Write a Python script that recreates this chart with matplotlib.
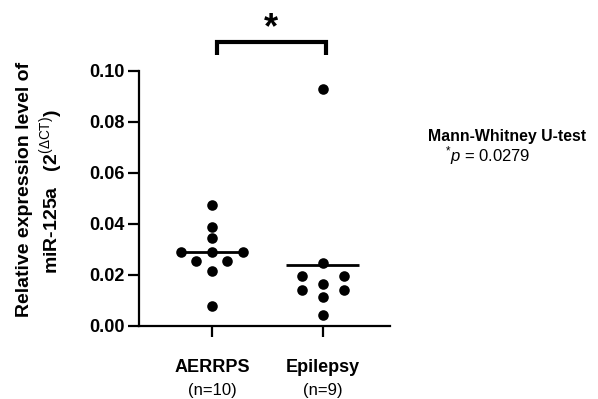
import matplotlib
matplotlib.use("Agg")
import matplotlib.pyplot as plt
import numpy as np

plt.rcParams['font.family'] = ['Liberation Sans', 'DejaVu Sans']
plt.rcParams['mathtext.fontset'] = 'custom'
plt.rcParams['mathtext.rm'] = 'Liberation Sans'
plt.rcParams['mathtext.it'] = 'Liberation Sans:italic'
plt.rcParams['mathtext.bf'] = 'Liberation Sans:bold'

groups = ["AERRPS", "Epilepsy"]
group_n = ["(n=10)", "(n=9)"]
aerrps_values = [0.0473, 0.0386, 0.0344, 0.0290, 0.0290, 0.0290, 0.0255, 0.0255, 0.0213, 0.0078]
aerrps_offsets = [0.0, 0.0, 0.0, -0.28, 0.0, 0.28, -0.14, 0.14, 0.0, 0.0]
epilepsy_values = [0.0928, 0.0245, 0.0195, 0.0195, 0.0162, 0.0140, 0.0140, 0.0111, 0.0042]
epilepsy_offsets = [0.0, 0.0, -0.19, 0.19, 0.0, -0.19, 0.19, 0.0, 0.0]
yticks = [0.00, 0.02, 0.04, 0.06, 0.08, 0.10]

fig = plt.figure(figsize=(5.98, 3.99), dpi=100)
ax = fig.add_axes([139/598, 1-325.7/399, (390-139)/598, (325.7-70.7)/399])

series = [(aerrps_values, aerrps_offsets), (epilepsy_values, epilepsy_offsets)]
half_widths = [0.29, 0.33]
for i, (vals, offs) in enumerate(series):
    xs = i + np.array(offs)
    ax.scatter(xs, vals, s=58, color='black', zorder=3, linewidths=0)
    m = np.mean(vals)
    ax.plot([i - half_widths[i], i + half_widths[i]], [m, m], color='black', lw=2, zorder=2,
            solid_capstyle='butt')

ax.set_xlim(-0.66, 1.61)
ax.set_ylim(0, 0.1)
ax.set_yticks(yticks)
ax.set_yticklabels([f"{v:.2f}" for v in yticks], fontsize=13, fontweight='bold')
ax.set_xticks([0, 1])
ax.set_xticklabels(["", ""])
for s in ['top', 'right']:
    ax.spines[s].set_visible(False)
for s in ['left', 'bottom']:
    ax.spines[s].set_linewidth(1.6)
ax.tick_params(axis='both', length=8, width=1.6, direction='out', pad=2)

for i, (g, n) in enumerate(zip(groups, group_n)):
    ax.text(i, -0.0165, g, ha='center', va='center', fontsize=13, fontweight='bold',
            transform=ax.transData, clip_on=False)
    ax.text(i, -0.0255, n, ha='center', va='center', fontsize=12,
            transform=ax.transData, clip_on=False)

# significance bracket
bx0, bx1 = 0.045, 1.03
ax.plot([bx0, bx0, bx1, bx1], [0.1062, 0.1114, 0.1114, 0.1062], color='black', lw=3,
        clip_on=False, solid_joinstyle='miter', solid_capstyle='butt')
ax.text(0.53, 0.1163, "*", ha='center', va='center', fontsize=26,
        fontweight='bold', clip_on=False)

fig.text(25/598, 1-189/399, "Relative expression level of", rotation=90, ha='center', va='center',
         fontsize=14, fontweight='bold')
fig.text(51/598, 1-192/399, r"miR-125a   (2$^{\mathrm{(\Delta CT)}}$)", rotation=90, ha='center',
         va='center', fontsize=14, fontweight='bold')

fig.text(428/598, 1-136/399, "Mann-Whitney U-test", ha='left', va='center', fontsize=11.4,
         fontweight='bold')
fig.text(445/598, 1-156/399, r"$^{*}$$\mathit{p}$ = 0.0279", ha='left', va='center', fontsize=12)

fig.savefig("out.png", dpi=100)
